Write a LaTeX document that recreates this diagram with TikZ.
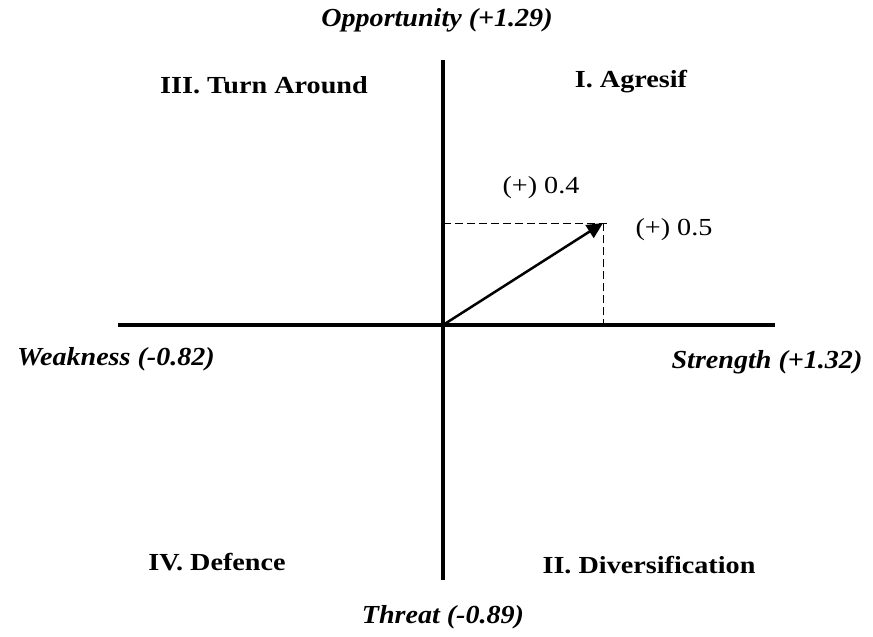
\documentclass[tikz,border=0pt]{standalone}
\usepackage{fontspec}
\setmainfont{Liberation Serif}[FakeStretch=1.15]
\newfontfamily\axisfont{Liberation Serif}[FakeStretch=1.08]
\usetikzlibrary{arrows.meta,positioning}
\tikzset{
  axisline/.style = {line width=4pt},
  guide/.style    = {line width=1pt, dash pattern=on 8pt off 4pt},
  vec/.style      = {-{Triangle[length=16pt,width=15pt]}, line width=2.5pt},
  quad/.style     = {font=\fontsize{24.5}{28}\selectfont\bfseries},
  axlab/.style    = {font=\axisfont\fontsize{26}{30}\selectfont\bfseries\itshape},
  val/.style      = {font=\fontsize{24.5}{28}\selectfont},
}
\begin{document}
\begin{tikzpicture}[x=1pt,y=-1pt]
\useasboundingbox (0,0) rectangle (873,637);
% axes
\coordinate (O) at (443,325);
\coordinate (W) at (118,325);
\coordinate (S) at (775,325);
\coordinate (N) at (443,60);
\coordinate (T) at (443,580);
\draw[axisline] (W) -- (S);
\draw[axisline] (N) -- (T);
% axis labels
\node[axlab] (opp) at (437,20)  {Opportunity (+1.29)};
\node[axlab] (thr) at (443,617) {Threat (-0.89)};
\node[axlab] (wea) at (116,359) {Weakness (-0.82)};
\node[axlab] (str) at (767,362) {Strength (+1.32)};
% quadrant names
\foreach \x/\y/\nm/\lab in {631/82/q1/I. Agresif, 649/565/q2/II. Diversification,
                            264/85/q3/III. Turn Around, 217/562/q4/IV. Defence}{
  \node[quad] (\nm) at (\x,\y) {\lab};}
% position point
\coordinate (P)  at (603,223);
\coordinate (Py) at (443,223);
\coordinate (Px) at (603,325);
\coordinate (Pe) at (610,223);
\draw[guide] (Py) -- (Pe);
\draw[guide] (P) -- (Px);
\draw[vec] (O) -- (P);
\node[val] (vy) at (541,188) {(+) 0.4};
\node[val] (vx) at (674,230) {(+) 0.5};
\end{tikzpicture}
\end{document}
